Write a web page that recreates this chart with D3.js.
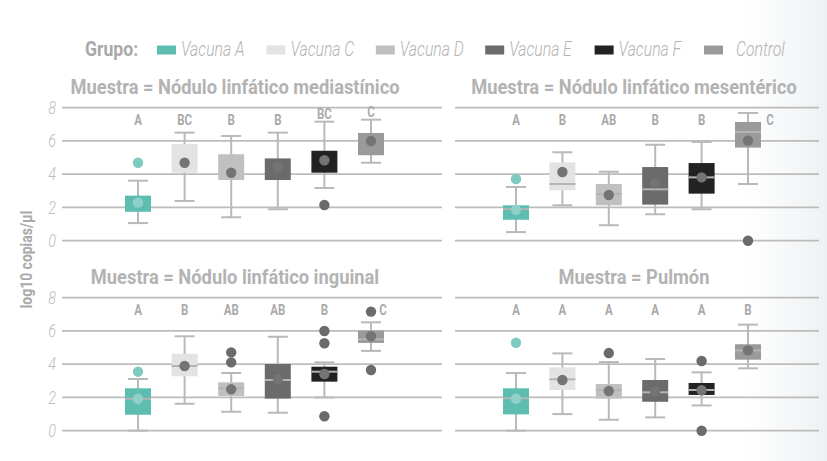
<!DOCTYPE html>
<html>
<head>
<meta charset="utf-8">
<script src="https://cdn.jsdelivr.net/npm/d3@7"></script>
<style>
  body { margin: 0; background: #fff; }
  svg { display: block; }
</style>
</head>
<body>
<div id="chart-area"></div>
<script>
var W = 827, H = 461;

// grupos y muestras
var grupos = ['Vacuna A', 'Vacuna C', 'Vacuna D', 'Vacuna E', 'Vacuna F', 'Control'];
var muestras = [
    'Muestra = Nódulo linfático mediastínico',
    'Muestra = Nódulo linfático mesentérico',
    'Muestra = Nódulo linfático inguinal',
    'Muestra = Pulmón'
];
var yTicks = [0, 2, 4, 6, 8];

// stats per muestra (rows) and grupo (columns), log10 copias/µl
var whiskerLow = [
    [1.06, 2.39, 1.41, 1.89, 3.17, 4.69],
    [0.52, 2.13, 0.93, 1.59, 1.89, 3.41],
    [0.00, 1.62, 1.14, 1.08, 2.00, 4.80],
    [0.00, 1.00, 0.66, 0.80, 1.52, 3.75]
];
var q1 = [
    [1.74, 4.09, 3.65, 3.65, 4.09, 5.14],
    [1.26, 3.03, 2.13, 2.17, 2.83, 5.60],
    [0.96, 3.27, 2.09, 1.93, 2.95, 5.28],
    [0.98, 2.45, 1.93, 1.74, 2.15, 4.27]
];
var median = [
    [null, null, null, null, null, null],
    [1.90, 3.41, 2.81, 3.09, 3.81, 6.54],
    [1.92, 3.89, 2.55, 3.05, 3.55, 5.50],
    [1.95, 3.09, 2.43, 2.31, 2.45, 4.83]
];
var q3 = [
    [2.71, 5.82, 5.20, 4.95, 5.41, 6.48],
    [2.13, 4.71, 3.41, 4.43, 4.67, 7.14],
    [2.55, 4.63, 2.91, 4.01, 3.85, 6.02],
    [2.55, 3.81, 2.81, 3.05, 2.87, 5.20]
];
var whiskerHigh = [
    [3.61, 6.50, 6.30, 6.50, 7.16, 7.28],
    [3.23, 5.32, 4.15, 5.77, 5.94, 7.68],
    [3.11, 5.68, 3.47, 5.65, 4.11, 6.52],
    [3.47, 4.65, 4.13, 4.31, 3.51, 6.38]
];
var means = [
    [2.29, 4.69, 4.09, 4.45, 4.84, 6.00],
    [1.86, 4.13, 2.75, 3.45, 3.81, 6.02],
    [1.92, 3.89, 2.49, 3.11, 3.41, 5.68],
    [1.92, 3.05, 2.39, 2.35, 2.43, 4.83]
];
var outliers = [
    [[4.69], [], [], [], [2.15], []],
    [[3.71], [], [], [], [], [0.00]],
    [[3.55], [], [4.11, 4.71], [], [0.87, 5.26, 6.00], [3.65, 7.16]],
    [[5.29], [], [4.67], [], [0.00, 4.19], []]
];
var letras = [
    ['A', 'BC', 'B', 'B', 'BC', 'C'],
    ['A', 'B', 'AB', 'B', 'B', 'C'],
    ['A', 'B', 'AB', 'AB', 'B', 'C'],
    ['A', 'A', 'A', 'A', 'A', 'B']
];

var colores = ['#5dbdb1', '#e3e3e3', '#c0c0c0', '#6b6b6b', '#222222', '#9a9a9a'];

// layout of the 2x2 grid
var colGrid = [[62, 442], [455, 819]];
var colBoxes = [[138, 371], [516, 748]];
var colTitle = [235, 634];
var rowY = [[240.7, 107.7], [430.7, 297.7]];

var textGrey = '#b3b3b3';
var whiskerGrey = '#b9b9b9';

// squash text horizontally to mimic the condensed face of the original
function squeeze(sel, k) {
    sel.each(function () {
        var w = this.getComputedTextLength();
        d3.select(this)
            .attr('textLength', w * k)
            .attr('lengthAdjust', 'spacingAndGlyphs');
    });
}

var svg = d3.select('#chart-area')
    .append('svg')
    .attr('width', W)
    .attr('height', H)
    .style('font-family', 'Roboto, "DejaVu Sans", sans-serif');

var defs = svg.append('defs');
var grad = defs.append('linearGradient')
    .attr('id', 'bg')
    .attr('x1', '0').attr('x2', '1').attr('y1', '0').attr('y2', '0');
grad.append('stop').attr('offset', '0.9').attr('stop-color', '#ffffff');
grad.append('stop').attr('offset', '1').attr('stop-color', '#eef1f3');

svg.append('rect')
    .attr('width', W)
    .attr('height', H)
    .attr('fill', 'url(#bg)');

// legend
var legend = svg.append('g');
legend.append('text')
    .attr('x', 85)
    .attr('y', 56)
    .attr('font-size', '20px')
    .attr('font-weight', 'bold')
    .attr('fill', '#a9a9a9')
    .text('Grupo:')
    .call(squeeze, 0.88);

var legX = d3.scalePoint().domain(grupos).range([157, 704]);

var items = legend.selectAll('g.item')
    .data(grupos)
    .enter()
    .append('g')
    .attr('class', 'item')
    .attr('transform', function (d) { return 'translate(' + legX(d) + ',0)'; });

items.append('rect')
    .attr('y', 45.5)
    .attr('width', 19)
    .attr('height', 9)
    .attr('fill', function (d, i) { return colores[i]; });

items.append('text')
    .attr('x', function (d) { return d === 'Control' ? 32 : 24; })
    .attr('y', 56)
    .attr('font-size', '21px')
    .attr('font-style', 'italic')
    .attr('font-weight', 300)
    .attr('fill', textGrey)
    .text(function (d) { return d; })
    .call(squeeze, 0.75);

// y axis title
svg.append('text')
    .attr('transform', 'translate(32,259.5) rotate(-90)')
    .attr('text-anchor', 'middle')
    .attr('font-size', '17px')
    .attr('font-weight', 'bold')
    .attr('fill', '#aaaaaa')
    .text('log10 copias/µl')
    .call(squeeze, 0.82);

muestras.forEach(function (titulo, p) {
    var col = p % 2, row = Math.floor(p / 2);

    var y = d3.scaleLinear().domain([0, 8]).range(rowY[row]);
    var x = d3.scalePoint().domain(grupos).range(colBoxes[col]);

    var g = svg.append('g');

    // title
    g.append('text')
        .attr('x', colTitle[col])
        .attr('y', rowY[row][1] - 13.7)
        .attr('text-anchor', 'middle')
        .attr('font-size', '20px')
        .attr('font-weight', 'bold')
        .attr('fill', textGrey)
        .text(titulo)
        .call(squeeze, 0.915);

    // gridlines
    g.selectAll('line.grid')
        .data(yTicks)
        .enter()
        .append('line')
        .attr('class', 'grid')
        .attr('x1', colGrid[col][0])
        .attr('x2', colGrid[col][1])
        .attr('y1', function (d) { return y(d); })
        .attr('y2', function (d) { return y(d); })
        .attr('stroke', '#bcbcbc')
        .attr('stroke-width', 1.8);

    // y tick labels only on the left column
    if (col === 0) {
        var yAxis = g.append('g')
            .attr('transform', 'translate(56,0)')
            .call(d3.axisLeft(y).tickValues(yTicks).tickSize(0).tickPadding(0));
        yAxis.select('.domain').remove();
        yAxis.selectAll('text')
            .attr('font-family', 'Roboto, sans-serif')
            .attr('font-size', '18px')
            .attr('font-style', 'italic')
            .attr('font-weight', 300)
            .attr('fill', '#bdbdbd')
            .call(squeeze, 0.8);
    }

    var boxes = g.selectAll('g.box')
        .data(grupos)
        .enter()
        .append('g')
        .attr('class', 'box')
        .attr('transform', function (d) { return 'translate(' + x(d) + ',0)'; });

    // whiskers
    boxes.append('line')
        .attr('y1', function (d, i) { return y(whiskerLow[p][i]); })
        .attr('y2', function (d, i) { return y(whiskerHigh[p][i]); })
        .attr('stroke', whiskerGrey)
        .attr('stroke-width', 2);

    [whiskerLow, whiskerHigh].forEach(function (arr) {
        boxes.append('line')
            .attr('x1', -10)
            .attr('x2', 10)
            .attr('y1', function (d, i) { return y(arr[p][i]); })
            .attr('y2', function (d, i) { return y(arr[p][i]); })
            .attr('stroke', whiskerGrey)
            .attr('stroke-width', 2);
    });

    // box
    boxes.append('rect')
        .attr('x', -13)
        .attr('width', 26)
        .attr('y', function (d, i) { return y(q3[p][i]); })
        .attr('height', function (d, i) { return y(q1[p][i]) - y(q3[p][i]); })
        .attr('fill', function (d, i) { return colores[i]; });

    // median
    boxes.filter(function (d, i) { return median[p][i] !== null; })
        .append('line')
        .attr('x1', -13)
        .attr('x2', 13)
        .attr('y1', function (d) { var i = grupos.indexOf(d); return y(median[p][i]); })
        .attr('y2', function (d) { var i = grupos.indexOf(d); return y(median[p][i]); })
        .attr('stroke', '#b4b4b4')
        .attr('stroke-width', 2);

    // mean dot
    boxes.append('circle')
        .attr('r', 5.2)
        .attr('cy', function (d, i) { return y(means[p][i]); })
        .attr('fill', function (d, i) { return i === 0 ? '#8fd1c8' : '#747474'; });

    // outliers
    boxes.each(function (d, i) {
        d3.select(this).selectAll('circle.out')
            .data(outliers[p][i])
            .enter()
            .append('circle')
            .attr('class', 'out')
            .attr('r', 5.2)
            .attr('cy', function (v) { return y(v); })
            .attr('fill', i === 0 ? '#7fcac0' : '#6b6b6b');
    });

    // significance letters
    boxes.append('text')
        .attr('text-anchor', 'middle')
        .attr('font-size', '14px')
        .attr('font-weight', 'bold')
        .attr('fill', '#aaaaaa')
        .each(function (d, i) {
            var outs = outliers[p][i];
            var topOut = outs.length ? d3.max(outs) : -1;
            var dx = 0, level = 7.25;
            if (whiskerHigh[p][i] > 7.5) dx = 22;
            else if (topOut > 7) dx = 12;
            else level = Math.max(7.25, whiskerHigh[p][i] + 0.45);
            d3.select(this)
                .attr('x', dx)
                .attr('y', y(level) + 5);
        })
        .text(function (d, i) { return letras[p][i]; })
        .call(squeeze, 0.82);
});
</script>
</body>
</html>
